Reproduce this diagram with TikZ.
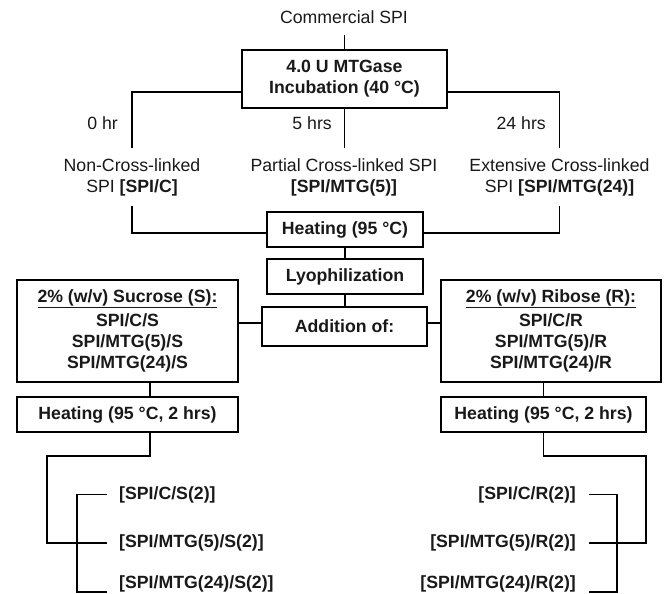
\documentclass[tikz,border=0pt]{standalone}
\usepackage{fontspec}
\setmainfont{Liberation Sans}
\definecolor{txt}{RGB}{25,25,25}
\begin{document}
\begin{tikzpicture}[x=1pt,y=-1pt,
  font=\fontsize{17.7}{21}\selectfont,
  box/.style={draw=black, line width=1.8pt, inner sep=0pt, align=center, text=txt, font=\fontsize{17.7}{21}\selectfont\bfseries},
  lab/.style={inner sep=0pt, align=center, text=txt},
  blab/.style={inner sep=0pt, text=txt, font=\fontsize{17.7}{21}\selectfont\bfseries},
  conn/.style={draw=black, line width=1.8pt}]
\useasboundingbox (0,0) rectangle (664,594);

% top
\node[lab, inner ysep=11.6pt] (csp) at (344,17) {Commercial SPI};
\node[box, minimum width=205, minimum height=58] (mtg) at (344.5,79) {4.0 U MTGase\\Incubation (40 °C)};
\draw[conn] (mtg.north) -- (mtg.north |- csp.south);

\node[lab, anchor=east] (t0) at (118,123) {0 hr};
\node[lab, anchor=east] (t5) at (332,123) {5 hrs};
\node[lab, anchor=east] (t24) at (546,123) {24 hrs};

\node[lab, inner ysep=10pt] (nc) at (132,177) {Non-Cross-linked\\SPI \textbf{[SPI/C]}};
\node[lab, inner ysep=10pt] (pc) at (344,177) {Partial Cross-linked SPI\\\textbf{[SPI/MTG(5)]}};
\node[lab, inner ysep=10pt] (ec) at (559.5,177) {Extensive Cross-linked\\SPI \textbf{[SPI/MTG(24)]}};

\draw[conn] ([yshift=-13]mtg.west) -| (nc.north);
\draw[conn] ([yshift=-13]mtg.east) -| (ec.north);
\draw[conn] (mtg.south) -- (mtg.south |- pc.north);

% middle column
\node[box, minimum width=156, minimum height=35] (heat) at (345,229.5) {Heating (95 °C)};
\node[box, minimum width=156, minimum height=35] (lyo) at (345,276.5) {Lyophilization};
\node[box, minimum width=165, minimum height=39] (add) at (344.5,326.5) {Addition of:};
\draw[conn] (nc.south) |- ([yshift=-3.5]heat.west);
\draw[conn] (ec.south) |- ([yshift=-3.5]heat.east);
\draw[conn] (heat) -- (lyo);
\draw[conn] (lyo.south) -- (lyo.south |- add.north);

% sugar boxes
\node[box, minimum width=221, minimum height=102] (suc) at (127.5,331)
  {\underline{2\% (w/v) Sucrose (S):}\\[3pt]SPI/C/S\\SPI/MTG(5)/S\\SPI/MTG(24)/S};
\node[box, minimum width=220, minimum height=102] (rib) at (551,331)
  {\underline{2\% (w/v) Ribose (R):}\\[3pt]SPI/C/R\\SPI/MTG(5)/R\\SPI/MTG(24)/R};
\draw[conn] ([yshift=8]suc.east) -- ([yshift=8]suc.east -| add.west);
\draw[conn] ([yshift=8]rib.west) -- ([yshift=8]rib.west -| add.east);

% heating 2 hrs
\node[box, minimum width=221, minimum height=35] (hs) at (127.5,414.5) {Heating (95 °C, 2 hrs)};
\node[box, minimum width=205, minimum height=35] (hr) at (543.5,414.5) {Heating (95 °C, 2 hrs)};
\draw[conn] ([xshift=22.5]suc.south) -- ([xshift=22.5]hs.north);
\draw[conn] (hr.north |- rib.south) -- (hr.north);

% final products left
\node[blab, anchor=west] (s1) at (119,494.5) {[SPI/C/S(2)]};
\node[blab, anchor=west] (s2) at (119,543) {[SPI/MTG(5)/S(2)]};
\node[blab, anchor=west] (s3) at (119,584) {[SPI/MTG(24)/S(2)]};
\draw[conn] ([xshift=22.5]hs.south) -- ++(0,23) -| ([xshift=-72]s2.west) -- ([xshift=-12]s2.west);
\draw[conn] ([xshift=-12]s1.west) -- ++(-30,0) |- ([xshift=-12,yshift=-8]s3.west);

% final products right
\node[blab, anchor=east] (r1) at (576,494.5) {[SPI/C/R(2)]};
\node[blab, anchor=east] (r2) at (576,543) {[SPI/MTG(5)/R(2)]};
\node[blab, anchor=east] (r3) at (576,584) {[SPI/MTG(24)/R(2)]};
\draw[conn] (hr.south) -- ++(0,23) -| ([xshift=70]r2.east) -- ([xshift=13]r2.east);
\draw[conn] ([xshift=13]r1.east) -- ++(28,0) |- ([xshift=13,yshift=-8]r3.east);
\end{tikzpicture}
\end{document}
